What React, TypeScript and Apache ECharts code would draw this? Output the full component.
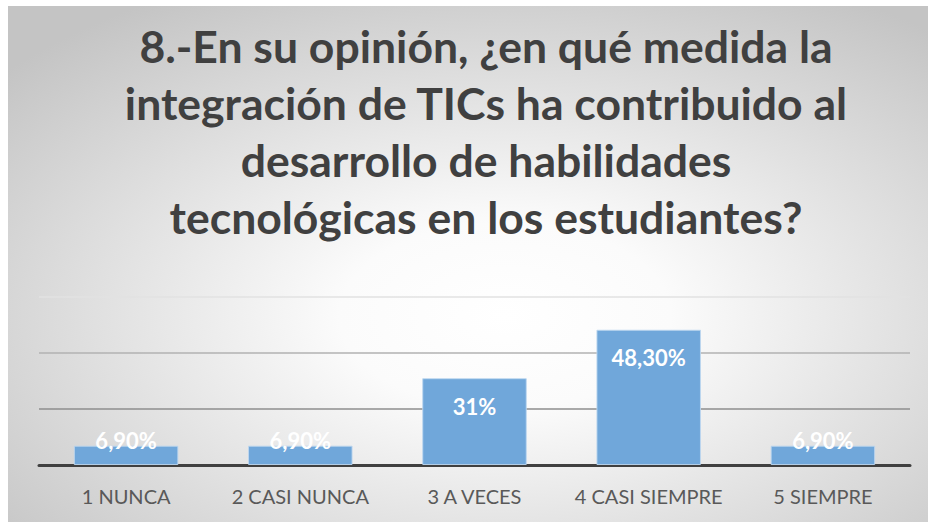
import React, { useEffect, useRef } from "react";
import * as echarts from "echarts";

const titleLines = [
  "8.-En su opinión, ¿en qué medida la",
  "integración de TICs ha contribuido al",
  "desarrollo de habilidades",
  "tecnológicas en los estudiantes?",
];
const categories = ["1 NUNCA", "2 CASI NUNCA", "3 A VECES", "4 CASI SIEMPRE", "5 SIEMPRE"];
const values = [6.9, 6.9, 31, 48.3, 6.9];
const valueLabels = ["6,90%", "6,90%", "31%", "48,30%", "6,90%"];
const yTicks = [0, 20, 40, 60];

export default function App() {
  const ref = useRef<HTMLDivElement>(null);
  useEffect(() => {
    if (!ref.current) return;
    const chart = echarts.init(ref.current, undefined, { renderer: "svg" });
    chart.setOption({
      animation: false,
      backgroundColor: {
        type: "radial",
        x: 0.54,
        y: 0.6,
        r: 0.72,
        colorStops: [
          { offset: 0, color: "#ffffff" },
          { offset: 0.25, color: "#fbfbfb" },
          { offset: 1, color: "#c4c4c4" },
        ],
      },
      graphic: [
        {
          type: "text",
          x: 478,
          y: 11,
          style: {
            text: titleLines.join("\n"),
            fill: "#404040",
            font: "bold 44.5px Lato, 'Noto Sans', sans-serif",
            lineHeight: 57,
            textAlign: "center",
            textVerticalAlign: "top",
          },
        },
      ],
      grid: { left: 31, right: 18, top: 291, bottom: 57 },
      xAxis: {
        type: "category",
        data: categories,
        axisLine: { lineStyle: { color: "#404040", width: 3 } },
        axisTick: { show: false },
        axisLabel: {
          interval: 0,
          color: "#595959",
          fontSize: 20,
          fontFamily: "Lato, 'Noto Sans', sans-serif",
          margin: 21,
        },
      },
      yAxis: {
        type: "value",
        min: yTicks[0],
        max: yTicks[yTicks.length - 1],
        interval: 20,
        axisLabel: { show: false },
        axisLine: { show: false },
        axisTick: { show: false },
        splitLine: {
          lineStyle: { color: ["#404040", "#8e8e8e", "#b2b2b2", "#e2e2e2"], width: 1.5 },
        },
      },
      series: [
        {
          type: "bar",
          barWidth: "60%",
          data: values.map((v, i) => ({
            value: v,
            label: {
              show: true,
              formatter: valueLabels[i],
              position: ["50%", v > 15 ? 28 : -5],
              align: "center",
              verticalAlign: "middle",
              color: "#ffffff",
              fontSize: 22,
              fontWeight: "bold",
              fontFamily: "Lato, 'Noto Sans', sans-serif",
            },
          })),
          itemStyle: {
            color: "#70a7da",
            borderColor: "rgba(190,215,240,0.9)",
            borderWidth: 1,
          },
        },
      ],
    });
    return () => chart.dispose();
  }, []);
  return (
    <div
      ref={ref}
      style={{ position: "absolute", left: 8, top: 6, width: 920, height: 516 }}
    />
  );
}
